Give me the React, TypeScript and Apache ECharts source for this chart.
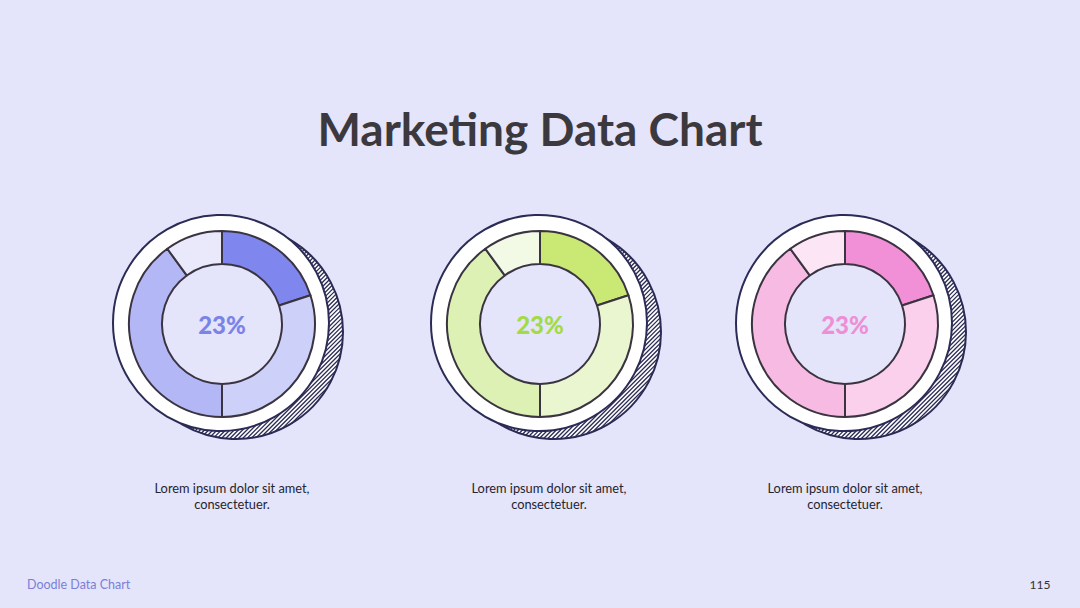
import React, { useEffect, useRef } from "react";
import * as echarts from "echarts";

const categories = ["A", "B", "C", "D"];
const blueValues = [20, 30, 40, 10];
const greenValues = [20, 30, 40, 10];
const pinkValues = [20, 30, 40, 10];
const centerLabels = ["23%", "23%", "23%"];
const captions = [
  "Lorem ipsum dolor sit amet,\nconsectetuer.",
  "Lorem ipsum dolor sit amet,\nconsectetuer.",
  "Lorem ipsum dolor sit amet,\nconsectetuer.",
];
const title = "Marketing Data Chart";
const footerLeft = "Doodle Data Chart";
const pageNumber = "115";

const palettes = [
  ["#7F86EE", "#CDD0F8", "#B4B7F5", "#E9E9FB"],
  ["#C9E874", "#EAF6CF", "#DDF1B4", "#F2F9E5"],
  ["#F290D7", "#FAD0EC", "#F6BAE3", "#FCE6F5"],
];
const labelColors = ["#7B83E8", "#A3DB45", "#EE8FD6"];
const centers: [number, number][] = [
  [222, 324],
  [540, 324],
  [845, 324],
];
const captionX = [232, 549, 845];

const NAVY = "#2B2B55";
const BG = "#E4E4FA";

function hatch(cx: number, cy: number, r: number) {
  const els: any[] = [];
  const s = Math.SQRT1_2;
  for (let d = -r + 1; d < r; d += 3) {
    const px = cx + d * s;
    const py = cy + d * s;
    const h = Math.sqrt(r * r - d * d);
    els.push({
      type: "line",
      z: 0,
      silent: true,
      shape: { x1: px - h * s, y1: py + h * s, x2: px + h * s, y2: py - h * s },
      style: { stroke: NAVY, lineWidth: 1.3 },
    });
  }
  return els;
}

export default function App() {
  const ref = useRef<HTMLDivElement>(null);
  useEffect(() => {
    if (!ref.current) return;
    const chart = echarts.init(ref.current, undefined, { renderer: "svg" });
    const seriesData = [blueValues, greenValues, pinkValues];
    const graphics: any[] = [];
    centers.forEach(([cx, cy], i) => {
      const sx = cx + 14;
      const sy = cy + 8;
      const sr = 107;
      graphics.push({
        type: "circle",
        z: 0,
        silent: true,
        shape: { cx: sx, cy: sy, r: sr },
        style: { fill: "#ffffff", stroke: NAVY, lineWidth: 2 },
      });
      graphics.push(...hatch(sx, sy, sr));
      graphics.push({
        type: "circle",
        z: 1,
        silent: true,
        shape: { cx: cx - 1, cy: cy - 1, r: 108 },
        style: { fill: "#ffffff", stroke: NAVY, lineWidth: 2 },
      });
      graphics.push({
        type: "circle",
        z: 1,
        silent: true,
        shape: { cx, cy, r: 60 },
        style: { fill: BG },
      });
      graphics.push({
        type: "text",
        z: 10,
        x: cx,
        y: cy,
        style: {
          text: centerLabels[i],
          fill: labelColors[i],
          font: "900 24px Lato",
          align: "center",
          verticalAlign: "middle",
        },
      });
      graphics.push({
        type: "text",
        z: 10,
        x: captionX[i],
        y: 496,
        style: {
          text: captions[i],
          fill: "#25252f",
          font: "12.8px Lato",
          align: "center",
          verticalAlign: "middle",
          lineHeight: 16,
        },
      });
    });
    graphics.push({
      type: "text",
      x: 540,
      y: 128,
      style: {
        text: title,
        fill: "#3C393E",
        font: "bold 46px Lato",
        align: "center",
        verticalAlign: "middle",
      },
    });
    graphics.push({
      type: "text",
      x: 27,
      y: 584,
      style: {
        text: footerLeft,
        fill: "#7B7FD8",
        font: "12.5px Lato",
        align: "left",
        verticalAlign: "middle",
      },
    });
    graphics.push({
      type: "text",
      x: 1040,
      y: 584,
      style: {
        text: pageNumber,
        fill: "#333333",
        font: "12px Lato",
        align: "center",
        verticalAlign: "middle",
      },
    });

    chart.setOption({
      animation: false,
      backgroundColor: BG,
      graphic: { elements: graphics },
      series: seriesData.map((vals, i) => ({
        type: "pie",
        z: 5,
        center: centers[i],
        radius: [60, 93],
        startAngle: 90,
        clockwise: true,
        silent: true,
        label: { show: false },
        labelLine: { show: false },
        itemStyle: { borderColor: "#3A3340", borderWidth: 2 },
        data: vals.map((v, j) => ({
          name: categories[j],
          value: v,
          itemStyle: { color: palettes[i][j] },
        })),
      })),
    });
    return () => chart.dispose();
  }, []);
  return (
    <div
      ref={ref}
      style={{ position: "fixed", left: 0, top: 0, width: 1080, height: 608 }}
    />
  );
}
